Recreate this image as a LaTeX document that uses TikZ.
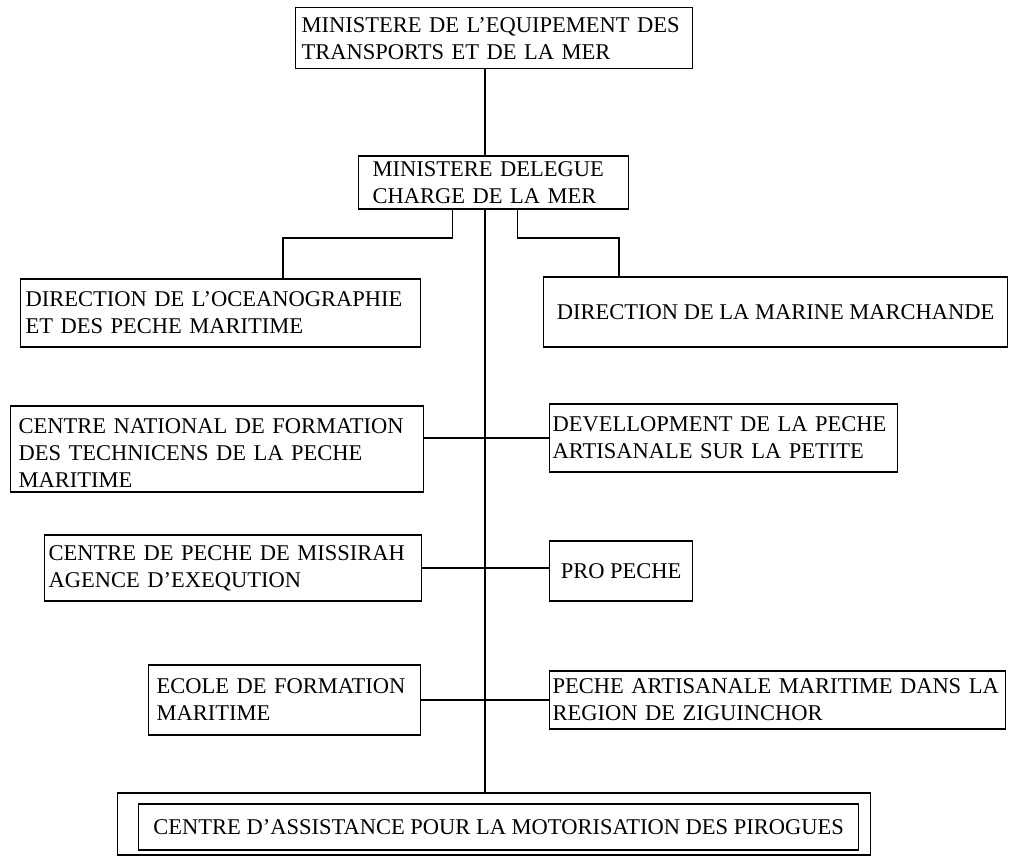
\documentclass[tikz,border=0pt]{standalone}
\usepackage{fontspec}
\setmainfont{Liberation Serif}
\usetikzlibrary{positioning}
\tikzset{
    box/.style={draw=black, line width=1.3pt, fill=white, align=left, inner ysep=0pt, font=\fontsize{22.5}{27}\selectfont},
    link/.style={line width=1.3pt, black},
    spineline/.style={line width=1.8pt, black}
}

\begin{document}
\begin{tikzpicture}
        \useasboundingbox (0,0) rectangle (1009pt,-855pt);

        % Ministries
        \node [box, anchor=north west, text width=385pt, inner xsep=6pt, minimum height=61pt] (top) at (295pt,-7pt) {MINISTERE DE L'EQUIPEMENT DES\\TRANSPORTS ET DE LA MER};
        \node [box, below=86pt of top, xshift=-0.5pt, text width=242pt, inner xsep=14pt, minimum height=53pt] (del) {MINISTERE DELEGUE\\CHARGE DE LA MER};

        % Directions
        \node [box, below=209pt of top, xshift=-273.5pt, text width=390pt, inner xsep=5pt, minimum height=68pt] (dirocean) {DIRECTION DE L'OCEANOGRAPHIE\\ET DES PECHE MARITIME};
        \node [box, below=207pt of top, xshift=281.5pt, align=center, minimum width=464pt, minimum height=70pt, inner xsep=2pt] (dirmarine) {DIRECTION DE LA MARINE MARCHANDE};

        % Left column
        \node [box, below=336pt of top, xshift=-277pt, text width=397pt, inner xsep=8pt, minimum height=86pt] (cnf) {\rule{0pt}{24pt}CENTRE NATIONAL DE FORMATION\\DES TECHNICENS DE LA PECHE\\MARITIME};
        \node [box, below=465pt of top, xshift=-261pt, text width=369pt, inner xsep=4pt, minimum height=66pt] (mis) {\hyphenpenalty=10000 CENTRE DE PECHE DE MISSIRAH\\AGENCE D'EXEQUTION};
        \node [box, below=595pt of top, xshift=-209.5pt, text width=256pt, inner xsep=8pt, minimum height=70pt] (ecole) {ECOLE DE FORMATION\\MARITIME};

        % Right column
        \node [box, below=334pt of top, xshift=229.5pt, text width=342pt, inner xsep=3pt, minimum height=68pt] (dev) {DEVELLOPMENT DE LA PECHE\\ARTISANALE SUR LA PETITE};
        \node [box, below=471pt of top, xshift=127pt, align=center, minimum width=143pt, minimum height=60pt] (pro) {PRO PECHE};
        \node [box, below=601pt of top, xshift=283.5pt, text width=450pt, inner xsep=3pt, minimum height=58pt] (pam) {PECHE ARTISANALE MARITIME DANS LA\\REGION DE ZIGUINCHOR};

        % Bottom (double frame)
        \node [box, below=723pt of top, minimum width=753pt, minimum height=62pt] (capout) {};
        \node [box, below=734pt of top, xshift=4.5pt, align=center, minimum width=720pt, minimum height=46pt] (capin) {CENTRE D'ASSISTANCE POUR LA MOTORISATION DES PIROGUES};

        % Spine
        \coordinate (spine) at ([xshift=-9.5pt]top.south);
        \draw [spineline] (spine) -- (spine |- del.north);
        \draw [spineline] (spine |- del.south) -- (spine |- capout.north);

        % Branches to the directions
        \coordinate (lknee) at (283pt,-238pt);
        \coordinate (rknee) at (619pt,-238pt);
        \draw [link] ([xshift=-41pt]del.south) |- (lknee) -- (lknee |- dirocean.north);
        \draw [link] ([xshift=24pt]del.south) |- (rknee) -- (rknee |- dirmarine.north);

        % Cross links
        \draw [link] (cnf.east |- dev.west) -- (dev.west);
        \draw [link] (mis.east) -- (mis.east -| pro.west);
        \draw [link] (ecole.east) -- (ecole.east -| pam.west);
\end{tikzpicture}
\end{document}
